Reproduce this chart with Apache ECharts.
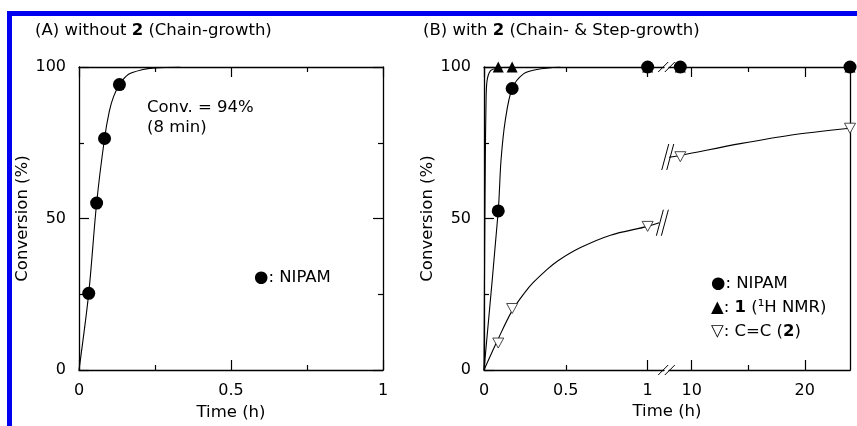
<!DOCTYPE html>
<html>
<head>
<meta charset="utf-8">
<script src="https://cdn.jsdelivr.net/npm/echarts@6/dist/echarts.min.js"></script>
<style>
  html, body { margin: 0; padding: 0; background: #fff; }
  #chart { width: 857px; height: 426px; }
</style>
</head>
<body>
<div id="chart"></div>
<script>
// ---------- Panel A: polymerization without 2 ----------
const timeA = [0.032, 0.058, 0.084, 0.133];          // h
const nipamA = [25.3, 55.1, 76.4, 94.2];             // %
// guide curve drawn through the panel A points
const guideA_t = [0, 0.032, 0.058, 0.084, 0.1, 0.114, 0.133, 0.163, 0.207, 0.25, 0.333];
const guideA_v = [0, 25.3, 55.1, 76.4, 85.5, 90.3, 94.2, 97.6, 99.1, 99.7, 100];

// ---------- Panel B: polymerization with 2 ----------
const timeB = [0.087, 0.172, 1, 9, 24];              // h
const nipamB = [52.5, 92.9, 100, 100, 100];          // %
const monomer1B = [100, 100, 100, 100, 100];         // % (1H NMR)
const vinyl2B = [8.9, 20.3, 47.4, 70.4, 79.8];       // % C=C of 2

const guideNipamB_t = [0, 0.087, 0.104, 0.13, 0.172, 0.243, 0.325, 0.467];
const guideNipamB_v = [0, 52.5, 69.2, 82.4, 92.9, 97.8, 99.2, 100];
const guide1B_t = [0, 0.004, 0.008, 0.012, 0.018, 0.039, 0.08, 0.172];
const guide1B_v = [0, 40, 69, 87, 95.2, 98.7, 99.6, 100];
const guideVinylShort_t = [0, 0.087, 0.172, 0.25, 0.3, 0.386, 0.45, 0.59, 0.773, 1.0, 1.07];
const guideVinylShort_v = [0, 10.3, 19.6, 25.6, 28.8, 33.2, 36.0, 40.4, 44.5, 47.4, 48.6];
const guideVinylLong_t = [8, 9, 14.3, 18.7, 24];
const guideVinylLong_v = [70.2, 70.8, 74.7, 77.5, 79.8];

// broken time axis of panel B
const shortRange = [0, 1.1];
const longRange = [8, 24];
const shortTicks = [0, 1];
const shortMinor = [0.5];
const shortLabels = [0, 0.5, 1];
const longTicks = [10, 20];
const longMinor = [15];
const longLabels = [10, 20];
const curveBreaks = [[1.09, 48.6, 1], [7.89, 70.3, 2]];   // [time, %, grid]

const FONT = '"DejaVu Sans", "Liberation Sans", sans-serif';
const INK = '#000';

const pairs = (xs, ys) => xs.map((x, i) => [x, ys[i]]);
const splitB = (vals, short) => timeB
  .map((t, i) => [t, vals[i]])
  .filter(p => short ? p[0] <= shortRange[1] : p[0] >= longRange[0]);

const chart = echarts.init(document.getElementById('chart'), null, { renderer: 'canvas' });

const tickLine = { color: INK, width: 1.2 };
const labelStyle = { color: INK, fontFamily: FONT, fontSize: 16, margin: 13 };

function valueX(grid, range, pos, extra) {
  return Object.assign({
    type: 'value', gridIndex: grid, position: pos, min: range[0], max: range[1],
    splitLine: { show: false },
    axisLine: { show: true, onZero: false, lineStyle: { color: INK, width: 1.3 } },
    axisTick: { show: true, inside: true, length: 10, lineStyle: tickLine },
    axisLabel: { show: false }
  }, extra);
}

const xAxes = [
  // A bottom / top
  valueX(0, [0, 1], 'bottom', {
    interval: 0.5,
    minorTick: { show: true, splitNumber: 2, length: 5, lineStyle: tickLine },
    axisLabel: Object.assign({ show: true }, labelStyle),
    name: 'Time (h)', nameLocation: 'middle', nameGap: 33,
    nameTextStyle: { color: INK, fontFamily: FONT, fontSize: 16.5 }
  }),
  valueX(0, [0, 1], 'top', {
    interval: 0.5,
    minorTick: { show: true, splitNumber: 2, length: 5, lineStyle: tickLine }
  }),
  // B short-time part
  valueX(1, shortRange, 'bottom', {
    axisTick: { show: true, inside: true, length: 10, customValues: shortTicks, lineStyle: tickLine },
    axisLabel: Object.assign({ show: true, customValues: shortLabels }, labelStyle)
  }),
  valueX(1, shortRange, 'bottom', {
    axisLine: { show: false, onZero: false },
    axisTick: { show: true, inside: true, length: 5, customValues: shortMinor, lineStyle: tickLine }
  }),
  valueX(1, shortRange, 'top', {
    axisTick: { show: true, inside: true, length: 10, customValues: shortTicks, lineStyle: tickLine }
  }),
  valueX(1, shortRange, 'top', {
    axisLine: { show: false, onZero: false },
    axisTick: { show: true, inside: true, length: 5, customValues: shortMinor, lineStyle: tickLine }
  }),
  // B long-time part
  valueX(2, longRange, 'bottom', {
    axisTick: { show: true, inside: true, length: 10, customValues: longTicks, lineStyle: tickLine },
    axisLabel: Object.assign({ show: true, customValues: longLabels }, labelStyle)
  }),
  valueX(2, longRange, 'bottom', {
    axisLine: { show: false, onZero: false },
    axisTick: { show: true, inside: true, length: 5, customValues: longMinor, lineStyle: tickLine }
  }),
  valueX(2, longRange, 'top', {
    axisTick: { show: true, inside: true, length: 10, customValues: longTicks, lineStyle: tickLine }
  }),
  valueX(2, longRange, 'top', {
    axisLine: { show: false, onZero: false },
    axisTick: { show: true, inside: true, length: 5, customValues: longMinor, lineStyle: tickLine }
  })
];

function convY(grid, pos, withLabels, withTicks) {
  const ax = {
    type: 'value', gridIndex: grid, position: pos, min: 0, max: 100, interval: 50,
    splitLine: { show: false },
    axisLine: { show: true, onZero: false, lineStyle: { color: INK, width: 1.3 } },
    axisTick: { show: withTicks, inside: true, length: 10, lineStyle: tickLine },
    minorTick: { show: withTicks, splitNumber: 2, length: 5, lineStyle: tickLine },
    axisLabel: Object.assign({ show: withLabels }, labelStyle)
  };
  if (withLabels) {
    ax.name = 'Conversion (%)';
    ax.nameLocation = 'middle';
    ax.nameGap = 41;
    ax.nameTextStyle = { color: INK, fontFamily: FONT, fontSize: 16.5 };
  }
  return ax;
}

const yAxes = [
  convY(0, 'left', true, true),
  convY(0, 'right', false, true),
  convY(1, 'left', true, true),
  convY(2, 'right', false, false)
];

function guide(xi, yi, data) {
  return {
    type: 'line', xAxisIndex: xi, yAxisIndex: yi, data: data,
    symbol: 'none', smooth: 0.3,
    lineStyle: { color: INK, width: 1.1 }, z: 2, silent: true
  };
}
const circle = (xi, yi, data) => ({
  type: 'scatter', xAxisIndex: xi, yAxisIndex: yi, data: data,
  symbol: 'circle', symbolSize: 13, itemStyle: { color: INK, opacity: 1 }, z: 4
});
const triUp = (xi, yi, data) => ({
  type: 'scatter', xAxisIndex: xi, yAxisIndex: yi, data: data,
  symbol: 'triangle', symbolSize: [11, 11], itemStyle: { color: INK, opacity: 1 }, z: 5
});
const triDown = (xi, yi, data) => ({
  type: 'scatter', xAxisIndex: xi, yAxisIndex: yi, data: data,
  symbol: 'triangle', symbolRotate: 180, symbolSize: [11, 10],
  itemStyle: { color: '#fff', borderColor: '#333', borderWidth: 0.9, opacity: 1 }, z: 5
});

const series = [
  guide(0, 0, pairs(guideA_t, guideA_v)),
  circle(0, 0, pairs(timeA, nipamA)),

  guide(2, 2, pairs(guideNipamB_t, guideNipamB_v)),
  guide(2, 2, pairs(guide1B_t, guide1B_v)),
  guide(2, 2, pairs(guideVinylShort_t, guideVinylShort_v)),
  circle(2, 2, splitB(nipamB, true)),
  triUp(2, 2, splitB(monomer1B, true)),
  triDown(2, 2, splitB(vinyl2B, true)),

  guide(6, 3, pairs(guideVinylLong_t, guideVinylLong_v)),
  circle(6, 3, splitB(nipamB, false)),
  triUp(6, 3, splitB(monomer1B, false)),
  triDown(6, 3, splitB(vinyl2B, false))
];

chart.setOption({
  animation: false,
  backgroundColor: '#fff',
  grid: [
    { left: 79, top: 67, width: 304, height: 303, containLabel: false },
    { left: 484, top: 67, width: 180, height: 303, containLabel: false },
    { left: 669, top: 67, width: 181, height: 303, containLabel: false }
  ],
  xAxis: xAxes,
  yAxis: yAxes,
  series: series
});

// ---------- text, frame and axis-break marks ----------
function txt(id, x, y, text, size, extra) {
  return Object.assign({
    type: 'text', id: id, x: x, y: y, z: 10,
    style: {
      text: text, fill: INK, fontFamily: FONT, fontSize: size,
      verticalAlign: 'middle', align: 'left',
      rich: {
        b: { fontFamily: FONT, fontSize: size, fontWeight: 'bold', fill: INK },
        n: { fontFamily: FONT, fontSize: size, fill: INK }
      }
    }
  }, extra || {});
}

const px = (grid, p) => chart.convertToPixel({ gridIndex: grid }, p);

const els = [
  // page frame
  { type: 'rect', id: 'frameTop', shape: { x: 7, y: 11, width: 850, height: 5 }, style: { fill: '#0000f0' } },
  { type: 'rect', id: 'frameLeft', shape: { x: 7, y: 11, width: 5, height: 415 }, style: { fill: '#0000f0' } },

  txt('titleA', 35, 31, '{n|(A) without }{b|2}{n| (Chain-growth)}', 16.5),
  txt('titleB', 423, 31, '{n|(B) with }{b|2}{n| (Chain- & Step-growth)}', 16.5),

  txt('conv', 147, 108, 'Conv. = 94%', 16.5),
  txt('conv2', 147, 128, '(8 min)', 16.5),

  txt('legA', 254, 278, '●: NIPAM', 16.5),
  txt('legB1', 711, 284, '●: NIPAM', 16.5),
  txt('legB2', 711, 308, '{n|▲: }{b|1}{n| (¹H NMR)}', 16.5),
  txt('legB3', 711, 332, '{n|▽: C=C (}{b|2}{n|)}', 16.5)
];

// x-axis title of panel B, centred on the whole broken axis
const bLeft = px(1, [shortRange[0], 0]);
const bRight = px(2, [longRange[1], 0]);
els.push(txt('timeB', (bLeft[0] + bRight[0]) / 2, bLeft[1] + 42, 'Time (h)', 16.5,
  { style: { text: 'Time (h)', fill: INK, fontFamily: FONT, fontSize: 16.5, align: 'center', verticalAlign: 'middle' } }));

// "//" on the top and bottom axis lines at the break
const gapL = px(1, [shortRange[1], 0])[0];
const gapR = px(2, [longRange[0], 0])[0];
const gapMid = (gapL + gapR) / 2;
[0, 100].forEach((v, j) => {
  const y = px(1, [0, v])[1];
  [-3.3, 3.3].forEach((dx, k) => {
    const cx = gapMid + dx;
    els.push({ type: 'line', id: 'axBrk' + j + k, z: 9,
      shape: { x1: cx - 5, y1: y + 5, x2: cx + 5, y2: y - 5 },
      style: { stroke: INK, lineWidth: 1 } });
  });
});

// "//" where the C=C curve is interrupted
curveBreaks.forEach((b, j) => {
  const p = px(b[2], [b[0], b[1]]);
  [-2.5, 2.5].forEach((dx, k) => {
    const cx = p[0] + dx;
    els.push({ type: 'line', id: 'cvBrk' + j + k, z: 9,
      shape: { x1: cx - 3.5, y1: p[1] + 13, x2: cx + 3.5, y2: p[1] - 13 },
      style: { stroke: INK, lineWidth: 1 } });
  });
});

chart.setOption({ graphic: { elements: els } });
</script>
</body>
</html>
